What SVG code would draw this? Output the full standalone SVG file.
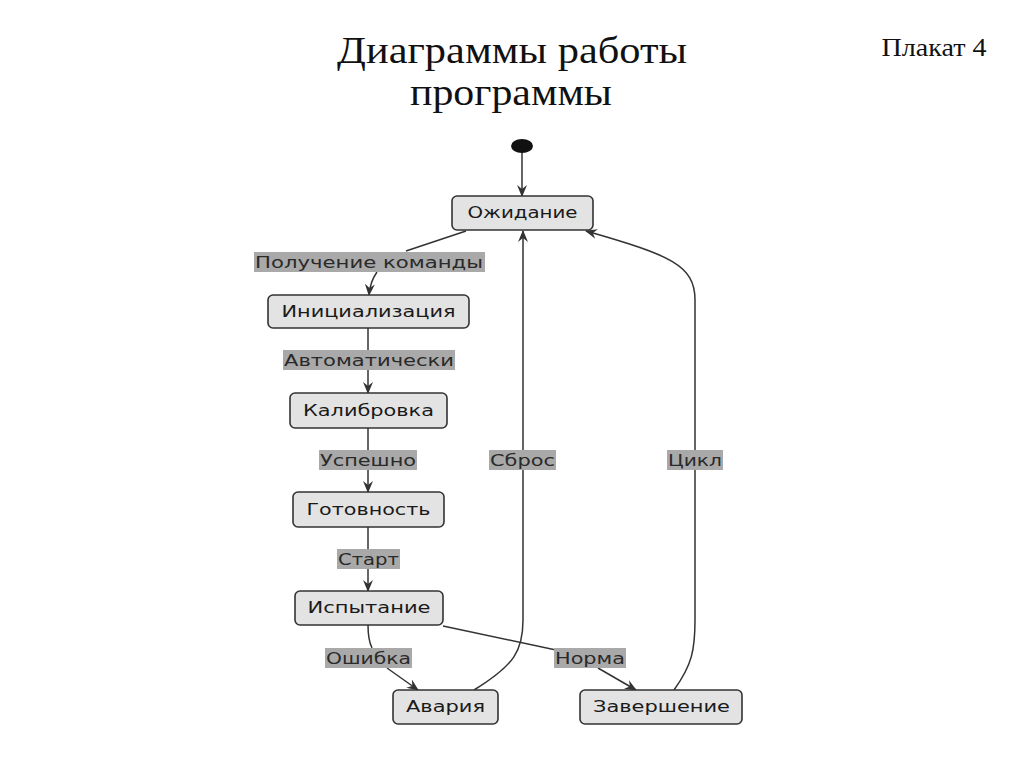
<svg xmlns="http://www.w3.org/2000/svg" width="1024" height="768" viewBox="0 0 1024 768">
<defs>
<style>
.node rect{fill:#e3e3e3;stroke:#333;stroke-width:1.6}
.node text{font-family:"DejaVu Sans",Verdana,sans-serif;font-size:15px;fill:#1a1a1a;text-anchor:middle}
.lbl rect{fill:#a9a9a9}
.lbl text{font-family:"DejaVu Sans",Verdana,sans-serif;font-size:15px;fill:#2a2a2a;text-anchor:middle}
.edge{fill:none;stroke:#333;stroke-width:1.5}
.title{font-family:"Liberation Serif","Times New Roman",serif;fill:#111;text-anchor:middle}
</style>
<marker id="arr" viewBox="0 0 12 10" refX="11" refY="5" markerWidth="12" markerHeight="10" markerUnits="userSpaceOnUse" orient="auto">
<path d="M0,0 L12,5 L0,10 L4,5 z" fill="#333"/>
</marker>
</defs>
<rect width="1024" height="768" fill="#fff"/>
<text class="title" x="512" y="63" font-size="38" textLength="350" lengthAdjust="spacingAndGlyphs">Диаграммы работы</text>
<text class="title" x="511" y="105" font-size="38" textLength="202" lengthAdjust="spacingAndGlyphs">программы</text>
<text class="title" x="934" y="56" font-size="26" textLength="105" lengthAdjust="spacingAndGlyphs">Плакат 4</text>

<g id="connectors">
<line class="edge" x1="522" y1="152" x2="522" y2="196" marker-end="url(#arr)"/>
<path class="edge" d="M466,231 L406,251"/>
<path class="edge" d="M377,272 Q370,282 369,295" marker-end="url(#arr)"/>
<line class="edge" x1="368" y1="328" x2="368" y2="350"/>
<line class="edge" x1="368" y1="370" x2="368" y2="393" marker-end="url(#arr)"/>
<line class="edge" x1="368" y1="428" x2="368" y2="450"/>
<line class="edge" x1="368" y1="470" x2="368" y2="492" marker-end="url(#arr)"/>
<line class="edge" x1="368" y1="527" x2="368" y2="549"/>
<line class="edge" x1="368" y1="569" x2="368" y2="591" marker-end="url(#arr)"/>
<path class="edge" d="M368,625 Q368,640 372,648"/>
<path class="edge" d="M387,668 L418,690" marker-end="url(#arr)"/>
<path class="edge" d="M443,626 L556,650"/>
<path class="edge" d="M598,668 L636,690" marker-end="url(#arr)"/>
<path class="edge" d="M474,690 C515,665 523,650 523,620 L523,231" marker-end="url(#arr)"/>
<path class="edge" d="M674,690 C692,665 695,650 695,620 L695,300 C695,265 670,255 586,231" marker-end="url(#arr)"/>
</g>

<g id="labels">
<g class="lbl" id="lbl-cmd"><rect x="254" y="252" width="231" height="20"/><text x="369" y="268" textLength="228" lengthAdjust="spacingAndGlyphs">Получение команды</text></g>
<g class="lbl" id="lbl-auto"><rect x="283" y="350" width="172" height="20"/><text x="369" y="366" textLength="170" lengthAdjust="spacingAndGlyphs">Автоматически</text></g>
<g class="lbl" id="lbl-ok"><rect x="319" y="450" width="98" height="20"/><text x="368" y="466" textLength="96" lengthAdjust="spacingAndGlyphs">Успешно</text></g>
<g class="lbl" id="lbl-start"><rect x="337" y="549" width="63" height="20"/><text x="368.5" y="565" textLength="61" lengthAdjust="spacingAndGlyphs">Старт</text></g>
<g class="lbl" id="lbl-err"><rect x="325" y="648" width="87" height="20"/><text x="368.5" y="664" textLength="85" lengthAdjust="spacingAndGlyphs">Ошибка</text></g>
<g class="lbl" id="lbl-norm"><rect x="554" y="648" width="72" height="20"/><text x="590" y="664" textLength="70" lengthAdjust="spacingAndGlyphs">Норма</text></g>
<g class="lbl" id="lbl-reset"><rect x="489" y="450" width="67" height="20"/><text x="522.5" y="466" textLength="65" lengthAdjust="spacingAndGlyphs">Сброс</text></g>
<g class="lbl" id="lbl-cycle"><rect x="667" y="450" width="56" height="20"/><text x="695" y="466" textLength="54" lengthAdjust="spacingAndGlyphs">Цикл</text></g>
</g>

<g id="start"><ellipse cx="522" cy="146" rx="11" ry="7" fill="#111"/></g>
<g class="node" id="n-wait"><rect x="452" y="196" width="141" height="34" rx="5"/><text x="522.5" y="218" textLength="110" lengthAdjust="spacingAndGlyphs">Ожидание</text></g>
<g class="node" id="n-init"><rect x="268" y="295" width="201" height="33" rx="5"/><text x="368.5" y="317" textLength="174" lengthAdjust="spacingAndGlyphs">Инициализация</text></g>
<g class="node" id="n-calib"><rect x="290" y="393" width="157" height="35" rx="5"/><text x="368.5" y="416" textLength="131" lengthAdjust="spacingAndGlyphs">Калибровка</text></g>
<g class="node" id="n-ready"><rect x="293" y="492" width="151" height="35" rx="5"/><text x="368.5" y="515" textLength="124" lengthAdjust="spacingAndGlyphs">Готовность</text></g>
<g class="node" id="n-test"><rect x="295" y="591" width="148" height="34" rx="5"/><text x="369" y="613" textLength="123" lengthAdjust="spacingAndGlyphs">Испытание</text></g>
<g class="node" id="n-crash"><rect x="393" y="690" width="105" height="34" rx="5"/><text x="445.5" y="712" textLength="79" lengthAdjust="spacingAndGlyphs">Авария</text></g>
<g class="node" id="n-done"><rect x="580" y="690" width="162" height="34" rx="5"/><text x="661.5" y="712" textLength="137" lengthAdjust="spacingAndGlyphs">Завершение</text></g>
</svg>
